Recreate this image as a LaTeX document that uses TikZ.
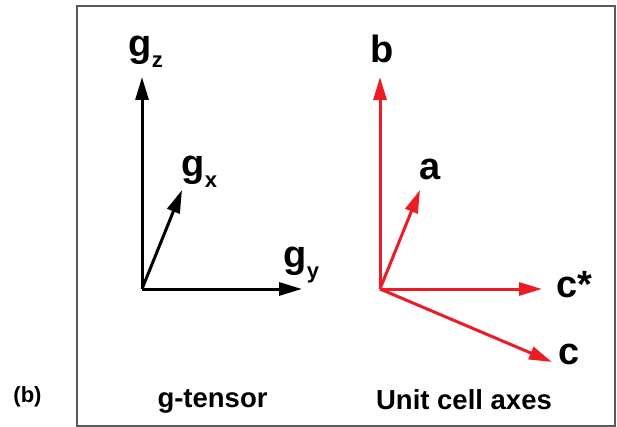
\documentclass[tikz,border=0pt]{standalone}
\usepackage{fontspec}
\setmainfont{Liberation Sans}
\usetikzlibrary{arrows.meta}
\definecolor{axred}{HTML}{ED1C24}
\newcommand{\axsub}[1]{\raisebox{-11pt}{\fontsize{22}{22}\selectfont\bfseries #1}}

\begin{document}
\begin{tikzpicture}[x=1pt, y=-1pt, font=\bfseries,
  axis/.style={line width=3pt, -{Triangle[length=23pt, width=13pt]}},
  lab/.style={anchor=base west, inner sep=0pt, font=\fontsize{38}{40}\selectfont\bfseries},
  caption/.style={anchor=base, inner sep=0pt, font=\fontsize{27.5}{30}\selectfont\bfseries}]
\useasboundingbox (0,0) rectangle (617,427);
\draw[black!65, line width=1.3pt] (77,6) rectangle (615,426);
% g-tensor axes
\coordinate (og) at (142,289);
\coordinate (gz) at (142,77);
\coordinate (gx) at (182,190);
\coordinate (gy) at (302,289);
\draw[axis] (og) -- (gz);
\draw[axis] (og) -- (gx);
\draw[axis] (og) -- (gy);
\node[lab] (lgz) at (128.5,57) {g\axsub{z}};
\node[lab] (lgx) at (181.5,177) {g\axsub{x}};
\node[lab] (lgy) at (283.5,267) {g\axsub{y}};
% unit cell axes
\coordinate (ou) at (380,289);
\coordinate (b) at (380,77);
\coordinate (a) at (420,190);
\coordinate (cs) at (542,289);
\coordinate (c) at (552,362);
\draw[axis, axred] (ou) -- (b);
\draw[axis, axred] (ou) -- (a);
\draw[axis, axred] (ou) -- (cs);
\draw[axis, axred] (ou) -- (c);
\node[lab] (lb) at (370,63) {b};
\node[lab] (la) at (419,179.5) {a};
\node[lab] (lcs) at (556,297.5) {c*};
\node[lab] (lc) at (558,364.5) {c};
% captions
\node[caption] (ltens) at (212.5,407) {g-tensor};
\node[caption] (lcell) at (464,409) {Unit cell axes};
\node[caption, font=\fontsize{22}{24}\selectfont\bfseries] (lpanel) at (27.5,402) {(b)};
\end{tikzpicture}
\end{document}
